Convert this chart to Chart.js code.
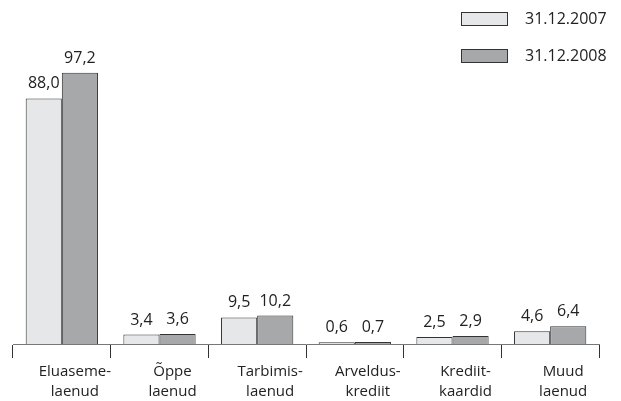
<!DOCTYPE html>
<html>
<head>
<meta charset="utf-8">
<script src="https://cdn.jsdelivr.net/npm/chart.js@4/dist/chart.umd.min.js"></script>
<style>
  html, body { margin: 0; padding: 0; background: #fff; }
  #wrap { width: 621px; height: 401px; }
</style>
</head>
<body>
<div id="wrap"><canvas id="loans"></canvas></div>
<script>
var categories = [["Eluaseme-", "laenud"], ["Õppe", "laenud"], ["Tarbimis-", "laenud"], ["Arveldus-", "krediit"], ["Krediit-", "kaardid"], ["Muud", "laenud"]];
var values2007 = [88.0, 3.4, 9.5, 0.6, 2.5, 4.6];
var values2008 = [97.2, 3.6, 10.2, 0.7, 2.9, 6.4];
var seriesNames = ["31.12.2007", "31.12.2008"];

var fontName = "'Open Sans', 'DejaVu Sans', sans-serif";

// value labels above the bars, comma decimals
var valueLabels = {
  id: "valueLabels",
  afterDatasetsDraw: function(chart) {
    var ctx = chart.ctx;
    ctx.save();
    ctx.font = "16px " + fontName;
    ctx.fillStyle = "#222";
    ctx.textAlign = "center";
    ctx.textBaseline = "alphabetic";
    chart.data.datasets.forEach(function(ds, i) {
      chart.getDatasetMeta(i).data.forEach(function(bar, j) {
        ctx.fillText(ds.data[j].toFixed(1).replace(".", ","), bar.x, bar.y - 10);
      });
    });
    ctx.restore();
  }
};

// stacked legend in the top right corner
var stackLegend = {
  id: "stackLegend",
  afterDraw: function(chart) {
    var ctx = chart.ctx;
    ctx.save();
    ctx.font = "16px " + fontName;
    ctx.textBaseline = "middle";
    chart.data.datasets.forEach(function(ds, i) {
      var y = 12 + i * 37;
      ctx.fillStyle = ds.backgroundColor;
      ctx.fillRect(461.5, y + 0.5, 46, 13);
      ctx.strokeStyle = "#333";
      ctx.lineWidth = 1;
      ctx.strokeRect(461.5, y + 0.5, 46, 13);
      ctx.fillStyle = "#222";
      ctx.fillText(ds.label, 525, y + 7);
    });
    ctx.restore();
  }
};

new Chart("loans", {
  type: "bar",
  data: {
    labels: categories,
    datasets: [{
      label: seriesNames[0],
      data: values2007,
      backgroundColor: "#e6e7e8",
      borderColor: "#333",
      borderWidth: 1
    }, {
      label: seriesNames[1],
      data: values2008,
      backgroundColor: "#a7a8aa",
      borderColor: "#333",
      borderWidth: 1
    }]
  },
  options: {
    responsive: true,
    maintainAspectRatio: false,
    animation: false,
    layout: { padding: { left: 13, right: 22, top: 12, bottom: 0 } },
    datasets: { bar: { categoryPercentage: 0.74, barPercentage: 1 } },
    plugins: {
      legend: { display: false },
      tooltip: { enabled: false }
    },
    scales: {
      x: {
        afterFit: function(scale) { scale.height = 57; },
        border: { color: "#777", width: 1 },
        grid: { offset: true, drawOnChartArea: false, tickLength: 14, color: "#333" },
        ticks: {
          color: "#222",
          font: { family: fontName, size: 15, lineHeight: 1.3 },
          padding: 4,
          labelOffset: 13,
          maxRotation: 0
        }
      },
      y: {
        display: false,
        min: 0,
        max: 119
      }
    }
  },
  plugins: [valueLabels, stackLegend]
});
</script>
</body>
</html>
